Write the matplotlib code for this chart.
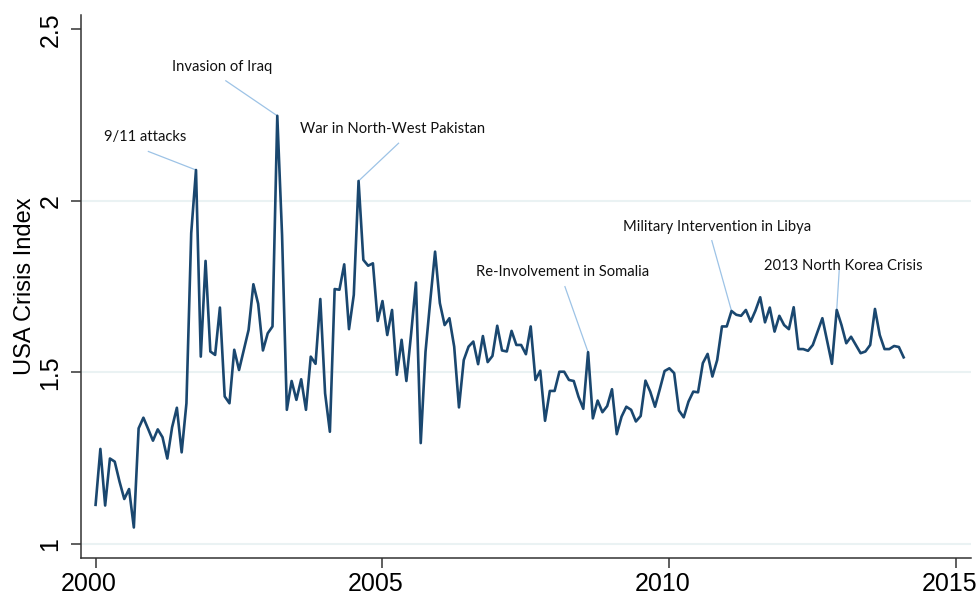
import numpy as np
import matplotlib
matplotlib.use('Agg')
import matplotlib.pyplot as plt
from matplotlib.transforms import ScaledTranslation, blended_transform_factory

# monthly crisis index, Jan 2000 - Feb 2014
start_year = 2000
crisis_index = [
	1.114, 1.277, 1.112, 1.249, 1.240, 1.182, 1.131, 1.160, 1.048, 1.337, 1.368, 1.335,
	1.301, 1.334, 1.311, 1.249, 1.340, 1.397, 1.267, 1.410, 1.906, 2.090, 1.546, 1.825,
	1.561, 1.551, 1.689, 1.430, 1.410, 1.566, 1.507, 1.565, 1.624, 1.757, 1.700, 1.564,
	1.614, 1.634, 2.248, 1.900, 1.391, 1.475, 1.420, 1.480, 1.391, 1.546, 1.525, 1.714,
	1.439, 1.327, 1.743, 1.741, 1.815, 1.626, 1.726, 2.058, 1.828, 1.811, 1.818, 1.650,
	1.708, 1.609, 1.682, 1.493, 1.595, 1.475, 1.614, 1.762, 1.294, 1.560, 1.710, 1.852,
	1.702, 1.638, 1.658, 1.575, 1.398, 1.536, 1.575, 1.590, 1.524, 1.606, 1.530, 1.548,
	1.636, 1.564, 1.561, 1.621, 1.580, 1.580, 1.553, 1.634, 1.478, 1.505, 1.359, 1.446,
	1.446, 1.502, 1.502, 1.478, 1.475, 1.429, 1.394, 1.559, 1.366, 1.418, 1.384, 1.402,
	1.451, 1.320, 1.371, 1.400, 1.391, 1.357, 1.373, 1.476, 1.444, 1.400, 1.451, 1.504,
	1.512, 1.498, 1.389, 1.369, 1.415, 1.444, 1.442, 1.527, 1.554, 1.488, 1.536, 1.634,
	1.634, 1.679, 1.668, 1.665, 1.682, 1.648, 1.680, 1.719, 1.646, 1.689, 1.619, 1.665,
	1.638, 1.626, 1.690, 1.568, 1.568, 1.563, 1.580, 1.619, 1.658, 1.592, 1.525, 1.682,
	1.638, 1.585, 1.604, 1.580, 1.556, 1.561, 1.580, 1.685, 1.609, 1.568, 1.568, 1.577,
	1.574, 1.544,
]

# events: label, month index of the peak
event_labels = ['9/11 attacks', 'Invasion of Iraq', 'War in North-West Pakistan',
	'Re-Involvement in Somalia', 'Military Intervention in Libya', '2013 North Korea Crisis']
event_months = [21, 38, 55, 103, 133, 155]

# label placement (year, index) and start of leader line
label_pos = [(2000.86, 2.187), (2002.20, 2.390), (2005.17, 2.209),
	(2008.14, 1.794), (2010.84, 1.923), (2013.03, 1.811)]
leader_start = [(2000.92, 2.144), (2002.27, 2.350), (2005.28, 2.168),
	(2008.18, 1.750), (2010.74, 1.884), (2012.96, 1.797)]

x_ticks = [2000, 2005, 2010, 2015]
y_ticks = [1, 1.5, 2, 2.5]
y_tick_labels = ['1', '1.5', '2', '2.5']

navy = '#1a476f'
grid_col = '#eaf2f3'

t = start_year + np.arange(len(crisis_index)) / 12.0

fig = plt.figure(figsize=(9.79, 5.97), dpi=100)
ax = fig.add_axes([0.0824, 0.0653, 0.9096, 0.9097])

for yv in [1, 1.5, 2]:
	ax.axhline(yv, color=grid_col, linewidth=1.5, zorder=0)

ax.plot(t, crisis_index, color=navy, linewidth=1.9, zorder=3)

for lab, m, lp, ls in zip(event_labels, event_months, label_pos, leader_start):
	ax.plot([ls[0], t[m]], [ls[1], crisis_index[m]], color='#9dc3e6', linewidth=0.9, zorder=2)
	ax.text(lp[0], lp[1], lab, ha='center', va='center', fontsize=10.6,
		family=['Lato', 'DejaVu Sans'], color='#111111')

ax.set_xlim(1999.74, 2015.26)
ax.set_ylim(0.959, 2.542)
ax.set_xticks(x_ticks)
ax.set_xticklabels([])
ax.set_yticks(y_ticks)
ax.set_yticklabels(y_tick_labels, fontsize=18, family='Liberation Sans', rotation=90, va='center')
ax.set_ylabel('USA Crisis Index', fontsize=17, family='Liberation Sans', labelpad=2)

# year labels, set a little left of their ticks
xlab_tr = blended_transform_factory(ax.transData, ax.transAxes) + \
	ScaledTranslation(-7 / 100, -14 / 100, fig.dpi_scale_trans)
for v in x_ticks:
	ax.text(v, 0, str(v), transform=xlab_tr, ha='center', va='top',
		fontsize=18, family='Liberation Sans', clip_on=False)

for side in ['top', 'right']:
	ax.spines[side].set_visible(False)
for side in ['left', 'bottom']:
	ax.spines[side].set_color('#333333')
	ax.spines[side].set_linewidth(1.1)
ax.tick_params(axis='both', length=7, width=1.1, color='#333333')
ax.tick_params(axis='y', pad=6)

fig.savefig('out.png', dpi=100)
